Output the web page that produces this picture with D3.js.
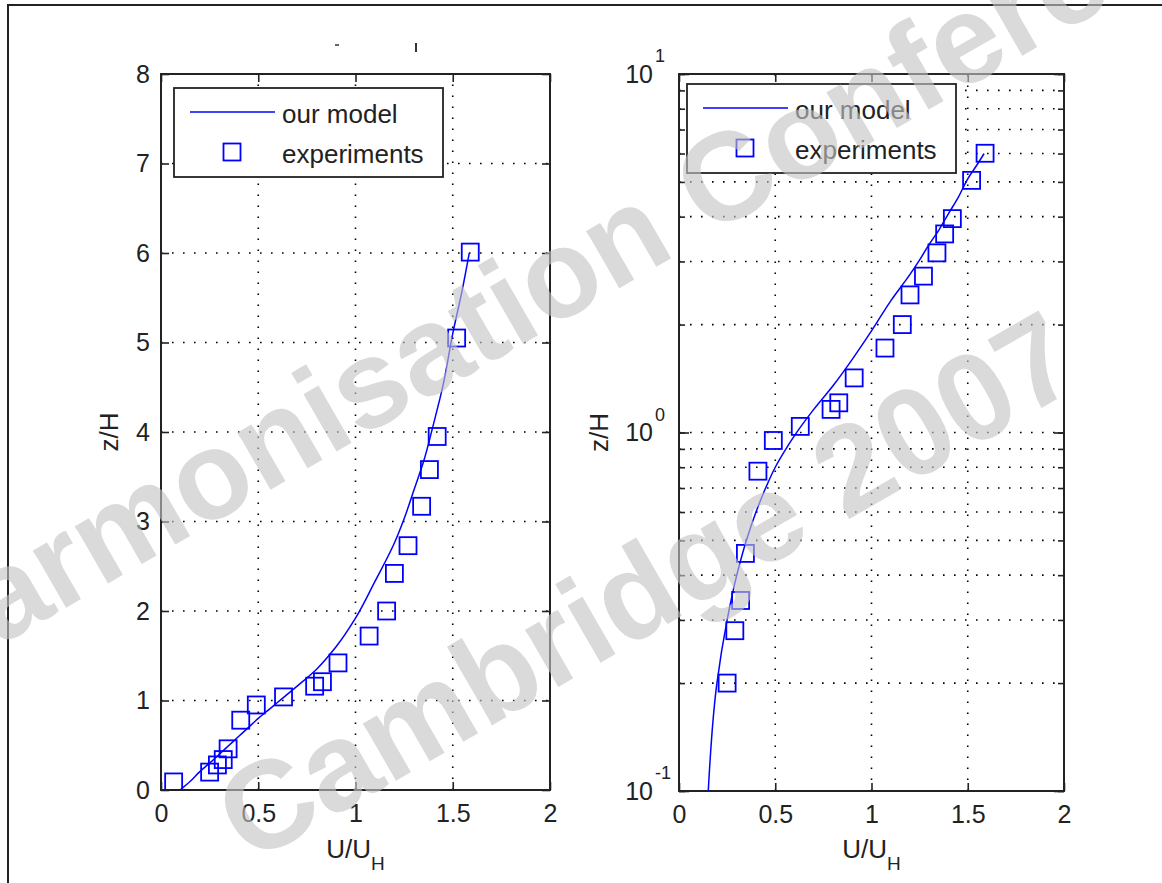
<!DOCTYPE html>
<html>
<head>
<meta charset="utf-8">
<script src="https://cdn.jsdelivr.net/npm/d3@7"></script>
<style>
  body { margin: 0; background: #fff; }
  text { font-family: "Liberation Sans", Arial, sans-serif; fill: #222; }
  .grid line { stroke: #000; stroke-width: 1.6; stroke-dasharray: 1.6 9.4; }
  .tick line { stroke: #222; stroke-width: 1.6; }
</style>
</head>
<body>
<script>
var modelU = [0.098, 0.152, 0.197, 0.25, 0.30, 0.35, 0.40, 0.45, 0.50, 0.55, 0.60, 0.70, 0.80, 0.90, 1.00, 1.10, 1.20, 1.25, 1.30, 1.35, 1.40, 1.45, 1.50, 1.55, 1.585];
var modelZ = [0.0, 0.10, 0.20, 0.30, 0.40, 0.50, 0.60, 0.70, 0.80, 0.89, 0.98, 1.16, 1.35, 1.60, 1.92, 2.33, 2.76, 3.03, 3.35, 3.67, 4.08, 4.52, 5.10, 5.60, 6.00];

// experiments
var expU = [0.065, 0.25, 0.29, 0.32, 0.345, 0.41, 0.49, 0.63, 0.79, 0.83, 0.91, 1.07, 1.16, 1.20, 1.27, 1.34, 1.38, 1.42, 1.52, 1.59];
var expZ = [0.09, 0.20, 0.28, 0.34, 0.46, 0.78, 0.95, 1.04, 1.16, 1.21, 1.42, 1.72, 2.00, 2.42, 2.73, 3.17, 3.58, 3.95, 5.05, 6.01];

var xTicks = [0, 0.5, 1, 1.5, 2];
var xTickLabels = ['0', '0.5', '1', '1.5', '2'];
var yTicksLin = [0, 1, 2, 3, 4, 5, 6, 7, 8];
var yTicksLog = [0.1, 1, 10];
var yLogExp = ['-1', '0', '1'];
var legendLabels = ['our model', 'experiments'];

var blue = '#0000ff';
var W = 1162, H = 883;

var svg = d3.select('body').append('svg')
    .attr('width', W)
    .attr('height', H);

svg.append('rect').attr('width', W).attr('height', H).attr('fill', '#fff');

// outer frame (only top and left visible)
svg.append('path')
    .attr('d', 'M8,883 L8,5 L1162,5')
    .attr('fill', 'none')
    .attr('stroke', '#222')
    .attr('stroke-width', 2);

// remnants of a cut off title
svg.append('line').attr('x1', 335).attr('x2', 339).attr('y1', 45).attr('y2', 45)
    .attr('stroke', '#333').attr('stroke-width', 1.5);
svg.append('line').attr('x1', 416).attr('x2', 416).attr('y1', 43).attr('y2', 52)
    .attr('stroke', '#333').attr('stroke-width', 2);

var model = modelU.map((u, i) => ({u: u, z: modelZ[i]}));
var exps = expU.map((u, i) => ({u: u, z: expZ[i]}));

function drawPanel(opt) {
    var x = opt.x, y = opt.y;
    var x0 = x.range()[0], x1 = x.range()[1];
    var y0 = y.range()[0], y1 = y.range()[1];
    var g = svg.append('g');

    // grid
    var grid = g.append('g').attr('class', 'grid');
    grid.selectAll('.gx').data([0.5, 1, 1.5]).enter().append('line')
        .attr('x1', d => x(d)).attr('x2', d => x(d))
        .attr('y1', y0).attr('y2', y1);
    grid.selectAll('.gy').data(opt.gridY).enter().append('line')
        .attr('x1', x0).attr('x2', x1)
        .attr('y1', d => y(d)).attr('y2', d => y(d));

    // ticks inside the box
    g.append('g').attr('transform', `translate(0,${y0})`)
        .call(d3.axisBottom(x).tickValues(xTicks).tickSizeInner(-8).tickSizeOuter(0).tickPadding(14)
            .tickFormat((d, i) => xTickLabels[i]))
        .call(a => a.select('.domain').remove())
        .call(a => a.selectAll('text').attr('font-size', 25).attr('fill', '#222').attr('font-family', '"Liberation Sans", Arial, sans-serif'));
    g.append('g').attr('transform', `translate(0,${y1})`)
        .call(d3.axisTop(x).tickValues(xTicks).tickSizeInner(-8).tickSizeOuter(0).tickFormat(''))
        .call(a => a.select('.domain').remove());

    if (opt.log) {
        g.append('g').attr('transform', `translate(${x0},0)`)
            .call(d3.axisLeft(y).tickValues(y.ticks()).tickSizeInner(-6).tickSizeOuter(0).tickFormat(''))
            .call(a => a.select('.domain').remove());
        g.append('g').attr('transform', `translate(${x1},0)`)
            .call(d3.axisRight(y).tickValues(y.ticks()).tickSizeInner(-6).tickSizeOuter(0).tickFormat(''))
            .call(a => a.select('.domain').remove());
        g.append('g').attr('transform', `translate(${x0},0)`)
            .call(d3.axisLeft(y).tickValues(yTicksLog).tickSizeInner(-10).tickSizeOuter(0).tickFormat(''))
            .call(a => a.select('.domain').remove());
        g.append('g').attr('transform', `translate(${x1},0)`)
            .call(d3.axisRight(y).tickValues(yTicksLog).tickSizeInner(-10).tickSizeOuter(0).tickFormat(''))
            .call(a => a.select('.domain').remove());
        var lab = g.selectAll('.ylog').data(yTicksLog).enter().append('g')
            .attr('transform', d => `translate(${x0 - 26},${y(d)})`);
        lab.append('text').attr('text-anchor', 'end').attr('dy', '0.34em')
            .attr('font-size', 25).text('10');
        lab.append('text').attr('x', 2).attr('y', -12)
            .attr('font-size', 18).text((d, i) => yLogExp[i]);
    } else {
        g.append('g').attr('transform', `translate(${x0},0)`)
            .call(d3.axisLeft(y).tickValues(yTicksLin).tickSizeInner(-8).tickSizeOuter(0).tickPadding(11))
            .call(a => a.select('.domain').remove())
            .call(a => a.selectAll('text').attr('font-size', 25).attr('fill', '#222').attr('font-family', '"Liberation Sans", Arial, sans-serif'));
        g.append('g').attr('transform', `translate(${x1},0)`)
            .call(d3.axisRight(y).tickValues(yTicksLin).tickSizeInner(-8).tickSizeOuter(0).tickFormat(''))
            .call(a => a.select('.domain').remove());
    }

    // box
    g.append('rect')
        .attr('x', x0).attr('y', y1)
        .attr('width', x1 - x0).attr('height', y0 - y1)
        .attr('fill', 'none').attr('stroke', '#222').attr('stroke-width', 2);

    // data
    var clipId = 'clip' + opt.id;
    svg.append('clipPath').attr('id', clipId).append('rect')
        .attr('x', x0 - 1).attr('y', y1 - 12).attr('width', x1 - x0 + 2).attr('height', y0 - y1 + 12);
    var data = g.append('g').attr('clip-path', `url(#${clipId})`);
    var mdl = opt.log ? model.filter(d => d.z > 0) : model;
    data.append('path')
        .datum(mdl)
        .attr('fill', 'none')
        .attr('stroke', blue)
        .attr('stroke-width', 1.5)
        .attr('d', d3.line().x(d => x(d.u)).y(d => y(d.z)).curve(d3.curveMonotoneY));
    var pts = opt.log ? exps.filter(d => d.z >= 0.1) : exps;
    data.selectAll('.sq').data(pts).enter().append('rect')
        .attr('x', d => x(d.u) - 8.5).attr('y', d => y(d.z) - 8.5)
        .attr('width', 17).attr('height', 17)
        .attr('fill', 'none').attr('stroke', blue).attr('stroke-width', 1.8);

    // axis labels
    var xl = g.append('text')
        .attr('x', (x0 + x1) / 2).attr('y', 858)
        .attr('text-anchor', 'middle').attr('font-size', 26);
    xl.append('tspan').text('U/U');
    xl.append('tspan').attr('font-size', 19).attr('dy', 12).text('H');
    g.append('text')
        .attr('transform', `translate(${opt.ylabX},${(y0 + y1) / 2}) rotate(-90)`)
        .attr('text-anchor', 'middle').attr('font-size', 26)
        .text('z/H');

    // legend
    var L = opt.legend;
    var lg = g.append('g').attr('transform', `translate(${L.x},${L.y})`);
    lg.append('rect').attr('width', 269).attr('height', 89)
        .attr('fill', '#fff').attr('stroke', '#222').attr('stroke-width', 1.8);
    lg.append('line').attr('x1', 16).attr('x2', 101).attr('y1', 24).attr('y2', 24)
        .attr('stroke', blue).attr('stroke-width', 1.5);
    lg.append('rect').attr('x', 58 - 8.5).attr('y', 64 - 8.5).attr('width', 17).attr('height', 17)
        .attr('fill', 'none').attr('stroke', blue).attr('stroke-width', 1.8);
    lg.selectAll('.lt').data(legendLabels).enter().append('text')
        .attr('x', 108).attr('y', (d, i) => 35 + i * 40)
        .attr('font-size', 26).text(d => d);
}

drawPanel({
    id: 'L',
    x: d3.scaleLinear().domain([0, 2]).range([161, 550]),
    y: d3.scaleLinear().domain([0, 8]).range([790, 74]),
    gridY: [1, 2, 3, 4, 5, 6, 7],
    log: false,
    ylabX: 118,
    legend: {x: 174, y: 88}
});

var yR = d3.scaleLog().domain([0.1, 10]).range([791, 74]);
drawPanel({
    id: 'R',
    x: d3.scaleLinear().domain([0, 2]).range([679, 1064]),
    y: yR,
    gridY: yR.ticks().filter(d => d > 0.1 && d < 10),
    log: true,
    ylabX: 608,
    legend: {x: 687, y: 84}
});

// watermark
var wm = svg.append('g')
    .attr('font-family', '"Liberation Sans", Arial, sans-serif')
    .attr('font-weight', 'bold')
    .attr('font-size', 125)
    .attr('opacity', 0.62);
wm.append('text')
    .attr('transform', 'translate(-80,692) rotate(-30)')
    .style('fill', '#c4c4c4')
    .text('Harmonisation Conference');
wm.append('text')
    .attr('transform', 'translate(250,865) rotate(-30)')
    .style('fill', '#c4c4c4')
    .text('Cambridge 2007');
</script>
</body>
</html>
